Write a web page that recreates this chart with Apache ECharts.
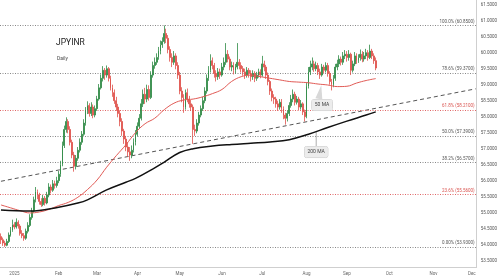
<!DOCTYPE html>
<html><head><meta charset="utf-8">
<script src="https://cdn.jsdelivr.net/npm/echarts@6/dist/echarts.min.js"></script>
<style>html,body{margin:0;padding:0;background:#fff}#c{width:500px;height:280px}</style>
</head><body><div id="c"></div>
<script>
// ---- data ----
const title = 'JPYINR';
const subtitle = 'Daily';
const startDate = '2024-12-23';
const totalBars = 248; // weekday slots on the time axis (incl. empty future)
// OHLC rows: [open, close, low, high]
const ohlc = [
[54.25,54.15,54.02,54.35],[54.15,54.05,53.96,54.22],[54.05,53.98,53.93,54.12],[53.98,54.10,53.95,54.18],[54.10,54.30,54.05,54.38],
[54.30,54.45,54.25,54.55],[54.45,54.62,54.40,54.78],[54.62,54.55,54.48,54.70],[54.55,54.70,54.50,54.82],[54.70,54.58,54.50,54.76],
[54.58,54.35,54.28,54.64],[54.35,54.28,54.20,54.45],[54.28,54.20,54.12,54.36],[54.20,54.42,54.15,54.50],[54.42,54.60,54.35,54.70],
[54.60,54.85,54.55,54.95],[54.85,55.05,54.78,55.15],[55.05,55.40,55.00,55.50],[55.40,55.65,55.32,55.80],[55.65,55.55,55.42,55.72],
[55.55,55.35,55.25,55.62],[55.35,55.25,55.18,55.45],[55.25,55.45,55.20,55.55],[55.45,55.30,55.22,55.52],[55.30,55.55,55.26,55.65],
[55.55,55.80,55.48,55.92],[55.80,55.70,55.60,55.88],[55.70,55.90,55.65,56.02],[55.90,55.85,55.75,56.00],[55.85,56.00,55.78,56.12],
[56.00,56.20,55.92,56.30],[56.20,56.50,56.12,56.62],[56.50,57.10,56.45,57.22],[57.10,57.60,57.02,57.72],[57.60,57.85,57.50,57.98],
[57.85,57.60,57.48,57.92],[57.60,57.20,57.10,57.70],[57.20,56.80,56.70,57.28],[56.80,56.45,56.28,56.90],[56.45,56.70,56.35,56.80],
[56.70,56.95,56.62,57.05],[56.95,57.20,56.88,57.32],[57.20,57.45,57.12,57.55],[57.45,57.80,57.40,57.92],[57.80,58.20,57.72,58.30],
[58.20,58.35,58.08,58.48],[58.35,58.10,58.00,58.42],[58.10,58.30,58.02,58.45],[58.30,58.05,57.95,58.38],[58.05,58.25,57.98,58.35],
[58.25,58.55,58.18,58.65],[58.55,58.90,58.50,59.02],[58.90,59.20,58.85,59.32],[59.20,59.45,59.10,59.58],[59.45,59.30,59.15,59.52],
[59.30,59.50,59.22,59.60],[59.50,59.20,59.10,59.55],[59.20,58.90,58.82,59.28],[58.90,58.75,58.62,59.00],[58.75,58.50,58.40,58.85],
[58.50,58.30,58.18,58.62],[58.30,58.10,57.98,58.40],[58.10,57.85,57.70,58.20],[57.85,57.55,57.40,57.95],[57.55,57.30,57.15,57.62],
[57.30,57.05,56.92,57.40],[57.05,56.90,56.75,57.20],[56.90,56.80,56.62,57.05],[56.80,56.95,56.70,57.10],[56.95,57.20,56.88,57.32],
[57.20,57.45,57.10,57.58],[57.45,57.70,57.38,57.82],[57.70,57.95,57.62,58.08],[57.95,58.40,57.88,58.55],[58.40,58.70,58.30,58.85],
[58.70,58.55,58.40,58.90],[58.55,58.85,58.45,59.00],[58.85,58.60,58.50,58.98],[58.60,59.30,58.55,59.42],[59.30,59.60,59.22,59.72],
[59.60,59.70,59.50,59.85],[59.70,59.85,59.62,59.98],[59.85,60.05,59.78,60.18],[60.05,60.25,59.95,60.38],[60.25,60.35,60.15,60.48],
[60.35,60.60,60.28,60.85],[60.60,60.45,60.30,60.75],[60.45,60.10,59.98,60.55],[60.10,59.85,59.72,60.20],[59.85,59.70,59.55,59.98],
[59.70,59.90,59.62,60.05],[59.90,59.60,59.48,59.98],[59.60,59.30,59.18,59.70],[59.30,58.80,58.70,59.40],[58.80,58.60,58.45,58.92],
[58.60,58.30,58.12,58.70],[58.30,58.75,58.22,58.85],[58.75,58.55,58.45,58.88],[58.55,58.40,58.28,58.65],[58.40,58.30,58.18,58.52],
[58.30,57.60,57.15,58.38],[57.60,57.55,57.40,57.75],[57.55,57.80,57.48,57.92],[57.80,58.05,57.72,58.15],[58.05,58.25,57.98,58.35],
[58.25,58.50,58.18,58.62],[58.50,58.80,58.42,58.92],[58.80,59.20,58.72,59.32],[59.20,59.45,59.12,59.58],[59.45,59.75,59.38,59.95],
[59.75,59.60,59.48,59.85],[59.60,59.35,59.22,59.68],[59.35,59.25,59.10,59.45],[59.25,59.40,59.15,59.52],[59.40,59.30,59.18,59.50],
[59.30,59.55,59.25,59.68],[59.55,59.70,59.45,59.85],[59.70,59.95,59.62,60.30],[59.95,59.80,59.70,60.08],[59.80,59.55,59.45,59.88],
[59.55,59.60,59.42,59.72],[59.60,59.45,59.32,59.70],[59.45,59.55,59.35,59.65],[59.55,59.70,59.48,60.30],[59.70,59.60,59.48,59.80],
[59.60,59.50,59.38,59.70],[59.50,59.40,59.28,59.58],[59.40,59.30,59.18,59.50],[59.30,59.45,59.22,59.55],[59.45,59.35,59.22,59.52],
[59.35,59.25,59.10,59.45],[59.25,59.35,59.15,59.45],[59.35,59.20,59.08,59.42],[59.20,59.30,59.12,59.40],[59.30,59.40,59.22,59.50],
[59.40,59.30,59.20,59.48],[59.30,59.65,59.25,59.90],[59.65,59.55,59.42,59.75],[59.55,59.30,59.18,59.62],[59.30,59.10,58.98,59.38],
[59.10,58.80,58.68,59.15],[58.80,58.60,58.48,58.88],[58.60,58.55,58.40,58.70],[58.55,58.40,58.28,58.62],[58.40,58.30,58.18,58.50],
[58.30,58.45,58.22,58.55],[58.45,58.25,58.12,58.55],[58.25,58.05,57.92,58.32],[58.05,57.95,57.75,58.12],[57.95,58.10,57.85,58.20],
[58.10,58.35,58.02,58.45],[58.35,58.55,58.28,58.68],[58.55,58.70,58.45,58.85],[58.70,58.45,58.35,58.78],[58.45,58.55,58.38,58.65],
[58.55,58.30,58.20,58.62],[58.30,58.40,58.22,58.52],[58.40,58.15,58.05,58.45],[58.15,58.00,57.85,58.22],[58.00,58.95,57.95,59.05],
[58.95,59.40,58.88,59.55],[59.40,59.55,59.30,59.75],[59.55,59.65,59.45,59.85],[59.65,59.50,59.40,59.75],[59.50,59.60,59.42,59.72],
[59.60,59.40,59.30,59.68],[59.40,59.30,59.18,59.50],[59.30,59.55,59.25,59.65],[59.55,59.45,59.35,59.62],[59.45,59.60,59.38,59.70],
[59.60,59.35,59.25,59.68],[59.35,59.10,59.00,59.42],[59.10,59.00,58.82,59.18],[59.00,59.20,58.92,59.30],[59.20,59.55,59.12,59.65],
[59.55,59.65,59.45,59.78],[59.65,59.80,59.55,59.92],[59.80,59.70,59.60,59.88],[59.70,59.90,59.62,60.02],[59.90,59.95,59.80,60.08],
[59.95,59.85,59.72,60.05],[59.85,59.95,59.75,60.08],[59.95,59.45,59.30,60.00],[59.45,59.65,59.38,59.75],[59.65,59.90,59.58,60.02],
[59.90,59.75,59.65,59.98],[59.75,59.85,59.68,59.95],[59.85,59.95,59.75,60.10],[59.95,59.80,59.70,60.05],[59.80,59.90,59.72,60.02],
[59.90,60.00,59.80,60.12],[60.00,59.85,59.75,60.08],[59.85,60.05,59.80,60.25],[60.05,59.90,59.80,60.12],[59.90,59.75,59.65,59.98],
[59.75,59.52,59.45,59.85]
];
// 50-day moving average, read at points along the curve
const ma50 = [
['2024-12-23',55.24],['2024-12-30',55.15],['2025-01-06',55.06],['2025-01-13',54.99],['2025-01-20',55.02],['2025-01-27',55.10],
['2025-02-03',55.22],['2025-02-10',55.32],['2025-02-17',55.48],['2025-02-24',55.72],['2025-03-03',56.02],['2025-03-10',56.42],
['2025-03-17',56.78],['2025-03-24',57.12],['2025-03-31',57.50],['2025-04-07',57.78],['2025-04-14',57.95],['2025-04-21',58.22],
['2025-04-28',58.42],['2025-05-05',58.52],['2025-05-12',58.55],['2025-05-19',58.62],['2025-05-26',58.72],['2025-06-02',58.85],
['2025-06-09',59.10],['2025-06-16',59.25],['2025-06-23',59.30],['2025-06-30',59.25],['2025-07-07',59.20],['2025-07-14',59.15],
['2025-07-21',59.10],['2025-07-28',59.08],['2025-08-04',59.06],['2025-08-11',59.02],['2025-08-18',58.99],['2025-08-25',58.94],
['2025-09-01',58.95],['2025-09-08',59.05],['2025-09-15',59.13],['2025-09-22',59.19]
];
// 200-day moving average
const ma200 = [
['2024-12-23',55.08],['2025-01-13',55.05],['2025-02-03',55.17],['2025-02-17',55.30],['2025-02-24',55.40],['2025-03-10',55.71],
['2025-03-24',55.95],['2025-03-31',56.07],['2025-04-14',56.40],['2025-04-21',56.58],['2025-05-01',56.88],['2025-05-12',57.00],
['2025-05-26',57.08],['2025-06-09',57.13],['2025-06-23',57.17],['2025-07-07',57.21],['2025-07-21',57.28],['2025-08-04',57.45],
['2025-08-18',57.66],['2025-09-01',57.86],['2025-09-15',58.05],['2025-09-22',58.15]
];
// rising trendline endpoints
const trend = [['2024-12-23',55.98],['2025-12-03',58.87]];
// Fibonacci retracement levels
const fibNames = ['100.0%','78.6%','61.8%','50.0%','38.2%','23.6%','0.00%'];
const fibValues = [60.85, 59.37, 58.21, 57.39, 56.57, 55.56, 53.93];
const fibRed = [false,false,true,false,false,true,false];
// price-axis ticks
const yTicks = [53.5,54,54.5,55,55.5,56,56.5,57,57.5,58,58.5,59,59.5,60,60.5,61,61.5];
const monthNames = ['2025','Feb','Mar','Apr','May','Jun','Jul','Aug','Sep','Oct','Nov','Dec'];
// callout anchors
const callout50 = ['2025-08-11', 59.02];
const callout200 = ['2025-08-08', 57.55];

// ---- build ----
const cats = [];
{ let d = new Date(startDate + 'T00:00:00Z');
  while (cats.length < totalBars) { const w = d.getUTCDay(); if (w !== 0 && w !== 6) cats.push(d.toISOString().slice(0,10)); d.setUTCDate(d.getUTCDate()+1); } }
const lastClose = ohlc[ohlc.length-1][1];
const lastMa50 = ma50[ma50.length-1][1];
const lastMa200 = ma200[ma200.length-1][1];
const FONT = 'Roboto, "Liberation Sans", sans-serif';
const tag = (bg) => ({show:true, position:'end', distance:1, formatter:p=>p.value.toFixed(4), backgroundColor:bg, color:'#fff', fontSize:4.5, fontFamily:FONT, padding:[2,2,1.5,2], borderRadius:1});

const chart = echarts.init(document.getElementById('c'), null, {renderer:'canvas'});
chart.setOption({
  animation:false,
  backgroundColor:'#ffffff',
  title:[
    {text:title, left:51, top:33, textStyle:{fontSize:8.5, fontWeight:'normal', color:'#222', fontFamily:FONT}},
    {text:subtitle, left:52, top:51, textStyle:{fontSize:5, fontWeight:'normal', color:'#444', fontFamily:FONT}}
  ],
  grid:{left:0, right:20, top:0, bottom:13, containLabel:false},
  xAxis:{type:'category', data:cats, boundaryGap:true,
    axisLine:{show:true, lineStyle:{color:'#cfcfcf', width:1}}, axisTick:{show:false}, splitLine:{show:false},
    axisLabel:{fontSize:4.5, color:'#666', fontFamily:FONT, margin:4,
      interval:(i,v)=> i>0 && v>='2025-01' && v.slice(0,7)!==cats[i-1].slice(0,7),
      formatter:(v)=> monthNames[parseInt(v.slice(5,7),10)-1]}},
  yAxis:{type:'value', position:'right', min:53.30, max:61.647, scale:true,
    axisLine:{show:true, lineStyle:{color:'#cfcfcf', width:1}}, axisTick:{show:false}, splitLine:{show:false},
    axisLabel:{customValues:yTicks, fontSize:4.5, color:'#555', fontFamily:FONT, margin:4, formatter:v=>v.toFixed(4)}},
  series:[
    {type:'line', name:'trend', data:trend, symbol:'none', silent:true,
     lineStyle:{color:'#555', width:1, type:[4,3]}, z:3,
     markLine:{symbol:'none', silent:true, animation:false,
       data: fibValues.map((v,i)=>({yAxis:v,
         lineStyle:{color: fibRed[i] ? '#e06666' : '#888', width:1, type:[1,1.5]},
         label:{show:true, position:'insideEndTop', distance:[2,1.5], fontSize:4.5, fontFamily:FONT,
           color: fibRed[i] ? '#d9534f' : '#555', formatter: fibNames[i] + ' (' + v.toFixed(4) + ')'}}))}},
    {type:'candlestick', name:'price', data:ohlc, barWidth:'70%', z:5,
     itemStyle:{color:'#1f7a35', color0:'#d93b35', borderColor:'#2f8a45', borderColor0:'#e0504a', borderWidth:0.8},
     markLine:{symbol:'none', silent:true, data:[{yAxis:lastClose, lineStyle:{opacity:0}, label:tag('#e53935')}]}},
    {type:'line', name:'MA50', data:ma50, smooth:0.4, symbol:'none', z:6,
     lineStyle:{color:'#e05a55', width:1},
     markLine:{symbol:'none', silent:true, data:[{yAxis:lastMa50, lineStyle:{opacity:0}, label:tag('#e53935')}]},
     markPoint:{silent:true, data:[
       {coord:callout50, symbol:'triangle', symbolSize:[7,14], symbolOffset:[2,8], symbolRotate:-10, itemStyle:{color:'#d8d8d8'}, label:{show:false}},
       {coord:callout50, symbol:'rect', symbolSize:0, label:{show:true, formatter:'50 MA', offset:[4,21], fontSize:5, fontFamily:FONT, color:'#444',
         backgroundColor:'#ececec', borderColor:'#c8c8c8', borderWidth:0.5, borderRadius:2, padding:[3,3]}}
     ]}},
    {type:'line', name:'MA200', data:ma200, smooth:0.4, symbol:'none', z:6,
     lineStyle:{color:'#111', width:1.5},
     markLine:{symbol:'none', silent:true, data:[{yAxis:lastMa200, lineStyle:{opacity:0}, label:tag('#111')}]},
     markPoint:{silent:true, data:[
       {coord:callout200, symbol:'rect', symbolSize:[0.8,14], symbolOffset:[0,8], itemStyle:{color:'#999'}, label:{show:false}},
       {coord:callout200, symbol:'rect', symbolSize:0, label:{show:true, formatter:'200 MA', offset:[0,21], fontSize:5, fontFamily:FONT, color:'#444',
         backgroundColor:'#ececec', borderColor:'#c8c8c8', borderWidth:0.5, borderRadius:2, padding:[3,3]}}
     ]}}
  ]
});
</script></body></html>
